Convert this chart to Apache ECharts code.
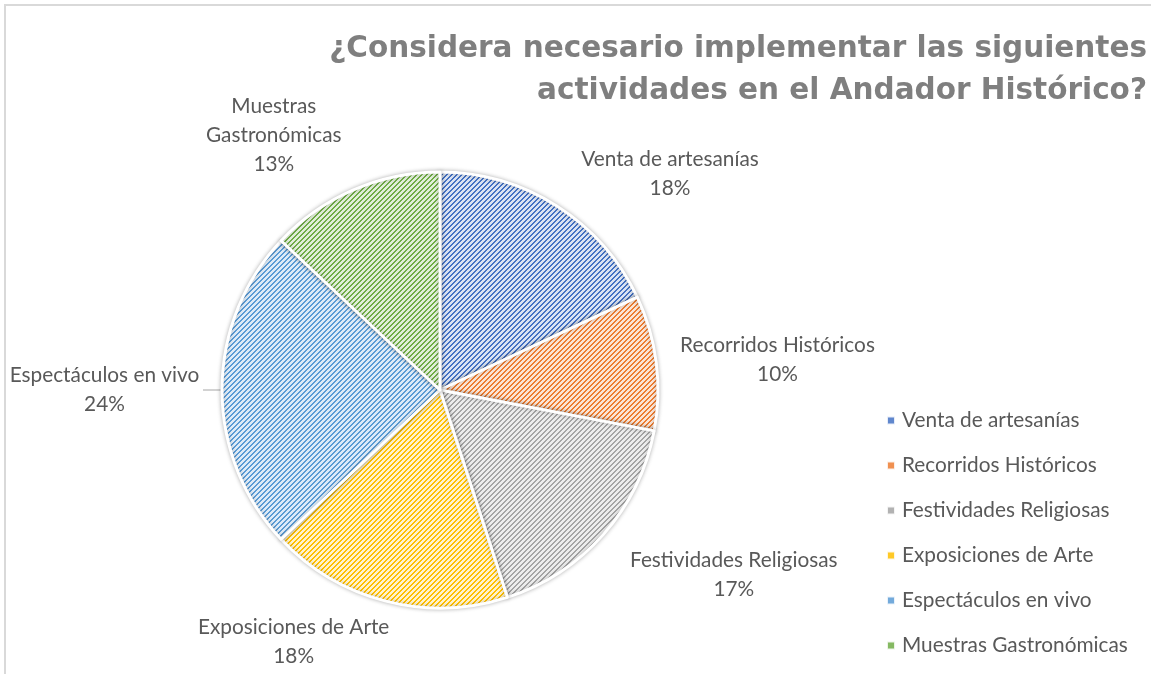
<!DOCTYPE html>
<html>
<head>
<meta charset="utf-8">
<script src="https://cdn.jsdelivr.net/npm/echarts@6/dist/echarts.min.js"></script>
<style>
	html, body { margin: 0; padding: 0; background: #fff; }
	#chart { width: 1151px; height: 674px; }
</style>
</head>
<body>
<div id="chart"></div>
<script>
	// datos
	var categories = ['Venta de artesanías', 'Recorridos Históricos', 'Festividades Religiosas', 'Exposiciones de Arte', 'Espectáculos en vivo', 'Muestras Gastronómicas'];
	var percents = [18, 10, 17, 18, 24, 13];
	var colors = ['#4472C4', '#ED7D31', '#A5A5A5', '#FFC000', '#5B9BD5', '#70AD47'];
	var titleText = '¿Considera necesario implementar las siguientes\nactividades en el Andador Histórico?';
	// guía de cada etiqueta (largo 1 y 2)
	var lineLen = [38, 20, 62, 42, 9, 60];
	var lineLen2 = [0, 0, -24, -18, 10, -16];

	// trama de rayas diagonales como en Excel
	function stripe(hex) {
		var c = document.createElement('canvas');
		c.width = 5; c.height = 5;
		var ctx = c.getContext('2d');
		var r = parseInt(hex.substr(1, 2), 16), g = parseInt(hex.substr(3, 2), 16), b = parseInt(hex.substr(5, 2), 16);
		var lr = Math.round(r + (255 - r) * 0.8), lg = Math.round(g + (255 - g) * 0.8), lb = Math.round(b + (255 - b) * 0.8);
		ctx.fillStyle = 'rgb(' + lr + ',' + lg + ',' + lb + ')';
		ctx.fillRect(0, 0, 5, 5);
		ctx.fillStyle = hex;
		for (var x = 0; x < 5; x++) {
			for (var y = 0; y < 5; y++) {
				if ((x + y) % 5 === 0 || (x + y) % 5 === 1) ctx.fillRect(x, y, 1, 1);
			}
		}
		return { image: c, repeat: 'repeat' };
	}

	var pieData = [];
	var legendData = [];
	for (var i = 0; i < categories.length; i++) {
		var item = {
			name: categories[i],
			value: percents[i],
			itemStyle: { color: stripe(colors[i]) },
			labelLine: { show: false, length: lineLen[i], length2: lineLen2[i] }
		};
		if (categories[i] === 'Espectáculos en vivo') {
			item.labelLine = { show: true, length: lineLen[i], length2: lineLen2[i], lineStyle: { color: '#a6a6a6', width: 1 } };
		}
		pieData.push(item);
		legendData.push({ name: categories[i], itemStyle: { color: colors[i], opacity: 0.85 } });
	}

	var myChart = echarts.init(document.getElementById('chart'));
	myChart.setOption({
		animation: false,
		backgroundColor: '#fff',
		title: {
			text: titleText,
			left: 1142,
			top: 23,
			textAlign: 'right',
			textStyle: {
				fontFamily: 'DejaVu Sans',
				fontSize: 29.5,
				fontWeight: 'bold',
				color: '#7f7f7f',
				lineHeight: 42
			}
		},
		legend: {
			orient: 'vertical',
			left: 881,
			top: 405,
			itemWidth: 8,
			itemHeight: 8,
			itemGap: 24,
			icon: 'rect',
			data: legendData,
			textStyle: {
				fontFamily: 'Lato',
				fontSize: 20.8,
				color: '#595959',
				padding: [0, 0, 0, 2]
			}
		},
		graphic: [{
			type: 'rect',
			z: -1,
			shape: { x: 5, y: 5, width: 1300, height: 800 },
			style: { fill: 'none', stroke: '#d9d9d9', lineWidth: 2 }
		}],
		series: [{
			type: 'pie',
			center: [440, 390],
			radius: 218,
			startAngle: 90,
			clockwise: true,
			data: pieData,
			itemStyle: {
				borderColor: '#fff',
				borderWidth: 3,
				shadowBlur: 4,
				shadowColor: 'rgba(0,0,0,0.25)'
			},
			emphasis: { disabled: true },
			label: {
				position: 'outside',
				distanceToLabelLine: 4,
				edgeDistance: 2,
				overflow: 'none',
				formatter: function (p) {
					var n = p.name === 'Muestras Gastronómicas' ? 'Muestras\nGastronómicas' : p.name;
					return n.split('\n').map(function (l) { return '{a|' + l + '}'; }).join('\n') + '\n{a|' + p.value + '%}';
				},
				rich: {
					a: {
						align: 'center',
						fontFamily: 'Lato',
						fontSize: 20.8,
						color: '#595959',
						lineHeight: 29
					}
				}
			}
		}]
	});
</script>
</body>
</html>
